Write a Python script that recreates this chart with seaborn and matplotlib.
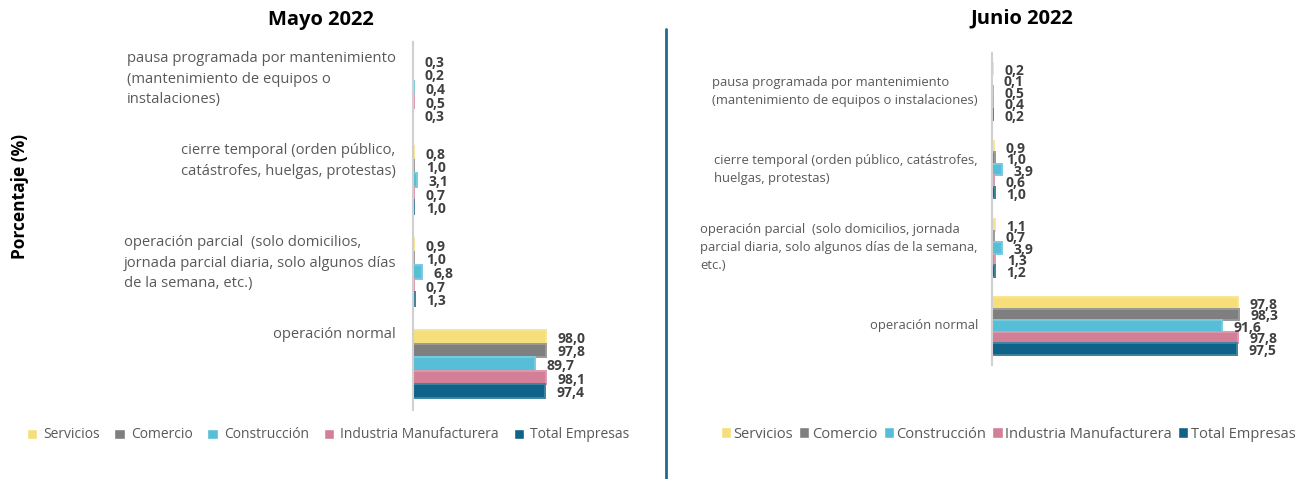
import matplotlib
matplotlib.use("Agg")
import matplotlib.pyplot as plt
from matplotlib.lines import Line2D
from matplotlib.colors import to_rgb
import numpy as np
import pandas as pd
import seaborn as sns

# ---------------- data ----------------
categories = ["pausa", "cierre", "parcial", "normal"]
labels_mayo = [
    "pausa programada por mantenimiento\n(mantenimiento de equipos o\ninstalaciones)",
    "cierre temporal (orden público,\ncatástrofes, huelgas, protestas)",
    "operación parcial  (solo domicilios,\njornada parcial diaria, solo algunos días\nde la semana, etc.)",
    "operación normal",
]
labels_junio = [
    "pausa programada por mantenimiento\n(mantenimiento de equipos o instalaciones)",
    "cierre temporal (orden público, catástrofes,\nhuelgas, protestas)",
    "operación parcial  (solo domicilios, jornada\nparcial diaria, solo algunos días de la semana,\netc.)",
    "operación normal",
]
series = ["Servicios", "Comercio", "Construcción", "Industria Manufacturera", "Total Empresas"]
colors = ["#F6DF7B", "#7F7F7F", "#56BED6", "#D37F97", "#0F6388"]

mayo_servicios = [0.3, 0.8, 0.9, 98.0]
mayo_comercio = [0.2, 1.0, 1.0, 97.8]
mayo_construccion = [0.4, 3.1, 6.8, 89.7]
mayo_industria = [0.5, 0.7, 0.7, 98.1]
mayo_total = [0.3, 1.0, 1.3, 97.4]

junio_servicios = [0.2, 0.9, 1.1, 97.8]
junio_comercio = [0.1, 1.0, 0.7, 98.3]
junio_construccion = [0.5, 3.9, 3.9, 91.6]
junio_industria = [0.4, 0.6, 1.3, 97.8]
junio_total = [0.2, 1.0, 1.2, 97.5]

titles = ["Mayo 2022", "Junio 2022"]
ylabel = "Porcentaje (%)"


def long_df(vals):
    rows = []
    for s, v in zip(series, vals):
        for c, x in zip(categories, v):
            rows.append({"cat": c, "serie": s, "valor": x})
    return pd.DataFrame(rows)


df_mayo = long_df([mayo_servicios, mayo_comercio, mayo_construccion, mayo_industria, mayo_total])
df_junio = long_df([junio_servicios, junio_comercio, junio_construccion, junio_industria, junio_total])

# ---------------- style ----------------
sns.set_style("white")
plt.rcParams["font.family"] = ["Open Sans", "DejaVu Sans"]

W, H = 1309, 479
fig = plt.figure(figsize=(W / 100, H / 100), dpi=100)

def fx(px):
    return px / W

def fy(py):
    return 1 - py / H

TXT = "#595959"
LBL = "#404040"
PX2PT = 0.72

axL = fig.add_axes([fx(413), fy(410), fx(200), (410 - 42) / H])
axR = fig.add_axes([fx(992), fy(365), fx(300), (365 - 52.5) / H])

panels = [
    (axL, df_mayo, labels_mayo, 200 / 1.357, "left"),
    (axR, df_junio, labels_junio, 300 / 2.515, "right"),
]

for ax, df, labs, xmax, side in panels:
    sns.barplot(data=df, y="cat", x="valor", hue="serie", order=categories,
                hue_order=series, palette=colors, orient="h", width=0.735,
                dodge=True, ax=ax, legend=True, saturation=1)
    for cont in ax.containers:
        for p in cont.patches:
            fc = np.array(to_rgb(p.get_facecolor()))
            p.set_edgecolor(tuple(fc * 0.8 + 0.2))
            p.set_linewidth(1.4)
    ax.set_xlim(0, xmax)
    ax.set_ylim(3.5, -0.5)
    for sp in ["top", "right", "bottom"]:
        ax.spines[sp].set_visible(False)
    ax.spines["left"].set_color("#D0D0D0")
    ax.spines["left"].set_linewidth(1.5)
    ax.set_xticks([])
    ax.set_xlabel("")
    ax.set_ylabel("")
    for cont in ax.containers:
        vals = cont.datavalues
        anns = ax.bar_label(cont, labels=[f"{v:.1f}".replace(".", ",") for v in vals],
                            padding=11.5 * PX2PT, fontsize=10, fontweight="bold",
                            color=LBL)
        for a in anns:
            a.xyann = (11.5 * PX2PT, -2 * PX2PT)
    if side == "left":
        ax.set_yticks(np.arange(4) - 0.40, labels=labs)
        ax.tick_params(axis="y", length=0, pad=17 * PX2PT)
        for t in ax.get_yticklabels():
            t.set_va("top")
            t.set_multialignment("left")
            t.set_linespacing(1.5)
            t.set_fontsize(10.6)
            t.set_color(TXT)
        sns.move_legend(ax, loc="center", bbox_to_anchor=(fx(328), fy(435)),
                        bbox_transform=fig.transFigure, ncol=5, frameon=False,
                        title=None, fontsize=10, handlelength=0.75, handleheight=0.75,
                        handletextpad=0.45, columnspacing=1.05, labelcolor=TXT)
    else:
        ax.set_yticks(np.arange(4), labels=labs)
        ax.tick_params(axis="y", length=0, pad=14 * PX2PT)
        for t in ax.get_yticklabels():
            t.set_va("center")
            t.set_multialignment("left")
            t.set_linespacing(1.5)
            t.set_fontsize(9.35)
            t.set_color(TXT)
        sns.move_legend(ax, loc="center", bbox_to_anchor=(fx(1008), fy(434)),
                        bbox_transform=fig.transFigure, ncol=5, frameon=False,
                        title=None, fontsize=10.5, handlelength=0.7, handleheight=0.7,
                        handletextpad=0.15, columnspacing=0.45, labelcolor=TXT)

fig.text(fx(321), fy(20), titles[0], ha="center", va="center", fontsize=14.5,
         fontweight="bold", color="black")
fig.text(fx(1022), fy(18), titles[1], ha="center", va="center", fontsize=14.5,
         fontweight="bold", color="black")
fig.text(fx(20), fy(196), ylabel, rotation=90, ha="center", va="center",
         fontsize=12.5, fontweight="bold", color="black")

fig.add_artist(Line2D([fx(666), fx(666)], [0, fy(29)], color="#1F6A94", lw=2,
                      transform=fig.transFigure))

fig.savefig("out.png", dpi=100)
